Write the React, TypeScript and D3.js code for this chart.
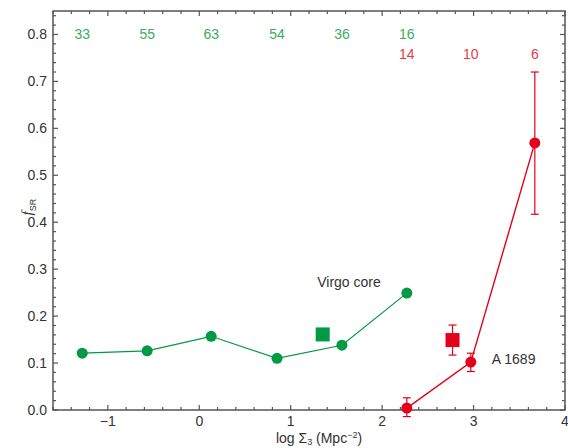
import * as d3 from "d3";

// green: field sample, red: A 1689
const greenX = [-1.28, -0.57, 0.13, 0.85, 1.56, 2.27];
const greenY = [0.121, 0.126, 0.157, 0.11, 0.138, 0.249];
const greenN = ["33", "55", "63", "54", "36", "16"];
const greenSquare = { x: 1.35, y: 0.161 };

const redX = [2.27, 2.97, 3.67];
const redY = [0.004, 0.102, 0.569];
const redLo = [-0.014, 0.082, 0.417];
const redHi = [0.026, 0.121, 0.72];
const redN = ["14", "10", "6"];
const redSquare = { x: 2.77, y: 0.149, lo: 0.117, hi: 0.181 };

const yTicks = [0, 0.1, 0.2, 0.3, 0.4, 0.5, 0.6, 0.7, 0.8];
const xTicks = [-1, 0, 1, 2, 3, 4];

const W = 568;
const H = 448;
const margin = { top: 11, right: 2, bottom: 38, left: 53 };
const GREEN = "#009a44";
const GREEN_TXT = "#3aad5e";
const RED = "#e3001b";
const RED_TXT = "#ea3a45";
const AXIS = "#555";
const TXT = "#333";
const FONT = "'Liberation Sans', Arial, sans-serif";

const App = () => {
  const x = d3.scaleLinear().domain([-1.6, 4]).range([margin.left, W - margin.right - 1]);
  const y = d3.scaleLinear().domain([0, 0.85]).range([H - margin.bottom, margin.top]);
  const [x0, x1] = x.range();
  const [y0, y1] = y.range();

  const xMinor = d3.range(-1.6, 4.001, 0.2).map((v) => +v.toFixed(2));
  const yMinor = d3.range(0, 0.85, 0.02).map((v) => +v.toFixed(2));

  const greenPts = greenX.map((v, i) => ({ x: v, y: greenY[i] }));
  const redPts = redX.map((v, i) => ({ x: v, y: redY[i], lo: redLo[i], hi: redHi[i] }));
  const line = d3
    .line<{ x: number; y: number }>()
    .x((d) => x(d.x))
    .y((d) => y(d.y));

  const fmtX = (d: number) => (d < 0 ? `\u2212${Math.abs(d)}` : `${d}`);
  const cap = 4;
  const sq = 14;

  return (
    <svg width={W} height={H} style={{ position: "absolute", left: 0, top: 0, background: "#fff" }} fontFamily={FONT}>
      {/* frame */}
      <rect x={x0} y={y1} width={x1 - x0} height={y0 - y1} fill="none" stroke={AXIS} strokeWidth={1.5} />

      {/* x ticks bottom and top */}
      {xMinor.map((v) => {
        const major = Math.abs(v - Math.round(v)) < 1e-6;
        const len = major ? 5 : 3;
        return (
          <g key={`xt${v}`} stroke={AXIS} strokeWidth={1.2}>
            <line x1={x(v)} x2={x(v)} y1={y0} y2={y0 - len} />
            <line x1={x(v)} x2={x(v)} y1={y1} y2={y1 + len} />
          </g>
        );
      })}
      {/* y ticks left and right */}
      {yMinor.map((v) => {
        const major = Math.abs(v * 10 - Math.round(v * 10)) < 1e-6;
        const len = major ? 5 : 3;
        return (
          <g key={`yt${v}`} stroke={AXIS} strokeWidth={1.2}>
            <line x1={x0} x2={x0 + len} y1={y(v)} y2={y(v)} />
            <line x1={x1} x2={x1 - len} y1={y(v)} y2={y(v)} />
          </g>
        );
      })}

      {yTicks.map((v) => (
        <text key={`yl${v}`} x={x0 - 6} y={y(v)} dy="0.35em" textAnchor="end" fontSize={14} fill={TXT}>
          {v.toFixed(1)}
        </text>
      ))}
      {xTicks.map((v) => (
        <text key={`xl${v}`} x={x(v)} y={y0 + 16} textAnchor="middle" fontSize={14} fill={TXT}>
          {fmtX(v)}
        </text>
      ))}

      {/* axis titles */}
      <text x={(x0 + x1) / 2 + 10} y={H - 5} textAnchor="middle" fontSize={14} fill={TXT}>
        log {"\u03A3"}
        <tspan fontSize={9} dy={2}>3</tspan>
        <tspan dy={-2}> (Mpc</tspan>
        <tspan fontSize={9} dy={-5}>{"\u2212"}2</tspan>
        <tspan dy={5}>)</tspan>
      </text>
      <text transform={`translate(32, ${(y0 + y1) / 2 + 5}) rotate(-90)`} fontSize={15} fill={TXT}>
        <tspan fontStyle="italic" fontFamily="'Liberation Serif', serif">f</tspan>
        <tspan fontSize={9} dy={4}>SR</tspan>
      </text>

      {/* green series */}
      <path d={line(greenPts) ?? ""} fill="none" stroke={GREEN} strokeWidth={1.2} />
      {greenPts.map((d, i) => (
        <circle key={`g${i}`} cx={x(d.x)} cy={y(d.y)} r={5.5} fill={GREEN} />
      ))}
      <rect x={x(greenSquare.x) - sq / 2} y={y(greenSquare.y) - sq / 2} width={sq} height={sq} fill={GREEN} />
      {greenN.map((n, i) => (
        <text key={`gn${i}`} x={x(greenX[i])} y={y(0.8)} dy="0.35em" textAnchor="middle" fontSize={14} fill={GREEN_TXT}>
          {n}
        </text>
      ))}

      {/* red series */}
      {redPts.map((d, i) => (
        <g key={`re${i}`} stroke={RED} strokeWidth={1.2}>
          <line x1={x(d.x)} x2={x(d.x)} y1={y(d.lo)} y2={y(d.hi)} />
          <line x1={x(d.x) - cap} x2={x(d.x) + cap} y1={y(d.lo)} y2={y(d.lo)} />
          <line x1={x(d.x) - cap} x2={x(d.x) + cap} y1={y(d.hi)} y2={y(d.hi)} />
        </g>
      ))}
      <path d={line(redPts) ?? ""} fill="none" stroke={RED} strokeWidth={1.4} />
      {redPts.map((d, i) => (
        <circle key={`r${i}`} cx={x(d.x)} cy={y(d.y)} r={5.5} fill={RED} />
      ))}
      <g stroke={RED} strokeWidth={1.2}>
        <line x1={x(redSquare.x)} x2={x(redSquare.x)} y1={y(redSquare.lo)} y2={y(redSquare.hi)} />
        <line x1={x(redSquare.x) - cap} x2={x(redSquare.x) + cap} y1={y(redSquare.lo)} y2={y(redSquare.lo)} />
        <line x1={x(redSquare.x) - cap} x2={x(redSquare.x) + cap} y1={y(redSquare.hi)} y2={y(redSquare.hi)} />
      </g>
      <rect x={x(redSquare.x) - sq / 2} y={y(redSquare.y) - sq / 2} width={sq} height={sq} fill={RED} />
      {redN.map((n, i) => (
        <text key={`rn${i}`} x={x(redX[i])} y={y(0.8) + 20} dy="0.35em" textAnchor="middle" fontSize={14} fill={RED_TXT}>
          {n}
        </text>
      ))}

      {/* annotations */}
      <text x={x(1.29)} y={y(0.272)} dy="0.35em" fontSize={14} fill={TXT}>Virgo core</text>
      <text x={x(3.2)} y={y(0.108)} dy="0.35em" fontSize={14} fill={TXT}>A 1689</text>
    </svg>
  );
};

export default App;
